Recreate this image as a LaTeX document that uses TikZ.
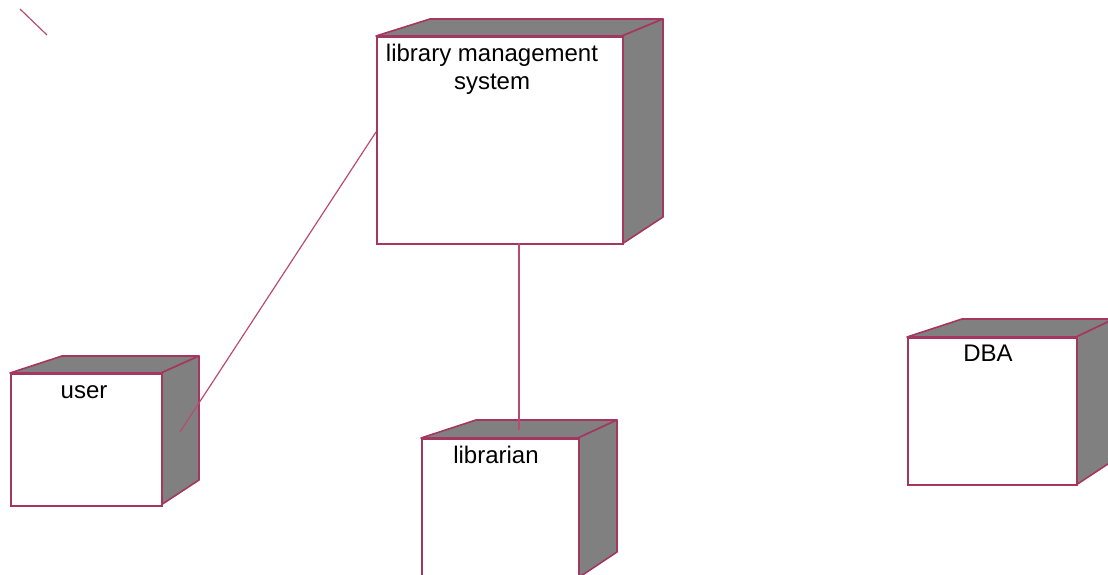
\documentclass[tikz,border=0pt]{standalone}
\usepackage{fontspec}
\setmainfont{Liberation Sans}
\definecolor{edge}{RGB}{165,55,95}
\definecolor{wire}{RGB}{185,75,115}
\definecolor{side}{RGB}{128,128,128}
\begin{document}
\begin{tikzpicture}[x=1pt,y=-1pt,
  face/.style={draw=edge,line width=1.6pt,fill=white,rectangle,inner sep=0pt,anchor=north west},
  shade3d/.style={draw=edge,line width=1.6pt,fill=side,line join=round},
  lbl/.style={font=\fontsize{24}{28}\selectfont,text=black,anchor=base,align=center,inner sep=0pt},
  conn/.style={draw=wire,line width=1.2pt}]
\useasboundingbox (0,0) rectangle (1108,575);
\clip (0,0) rectangle (1108,575);
% stray mark
\coordinate (s1) at (20,9);
\coordinate (s2) at (47,35);
\draw[conn] (s1) -- (s2);
% library management system
\draw[shade3d] (376,36) -- (430,19) -- (663,19) -- (622,36) -- cycle;
\draw[shade3d] (622,36) -- (663,19) -- (663,217) -- (622,244) -- cycle;
\node[face,minimum width=246pt,minimum height=207pt] (lms) at (376,36) {};
\node[lbl] (lmsLabel) at (492,90) {library management\\system};
% user
\draw[shade3d] (10,373) -- (62,356) -- (199,356) -- (161,373) -- cycle;
\draw[shade3d] (161,373) -- (199,356) -- (199,480) -- (161,505) -- cycle;
\node[face,minimum width=151pt,minimum height=132pt] (user) at (10,373) {};
\node[lbl] (userLabel) at (84,398) {user};
% librarian
\draw[shade3d] (421,438) -- (476,420) -- (617,420) -- (578,438) -- cycle;
\draw[shade3d] (578,438) -- (617,420) -- (617,552) -- (578,578) -- cycle;
\node[face,minimum width=157pt,minimum height=150pt] (librarian) at (421,438) {};
\node[lbl] (librarianLabel) at (496,463) {librarian};
% DBA
\draw[shade3d] (907,337) -- (962,319) -- (1114,319) -- (1076,337) -- cycle;
\draw[shade3d] (1076,337) -- (1114,319) -- (1114,460) -- (1076,485) -- cycle;
\node[face,minimum width=169pt,minimum height=147pt] (dba) at (907,337) {};
\node[lbl] (dbaLabel) at (988,361) {DBA};
% connectors
\coordinate (userEnd) at (180,432);
\coordinate (libEnd) at (519,430);
\draw[conn] (lms.west |- 0,132) -- (userEnd);
\draw[conn] (519,243) -- (libEnd);
\end{tikzpicture}
\end{document}
